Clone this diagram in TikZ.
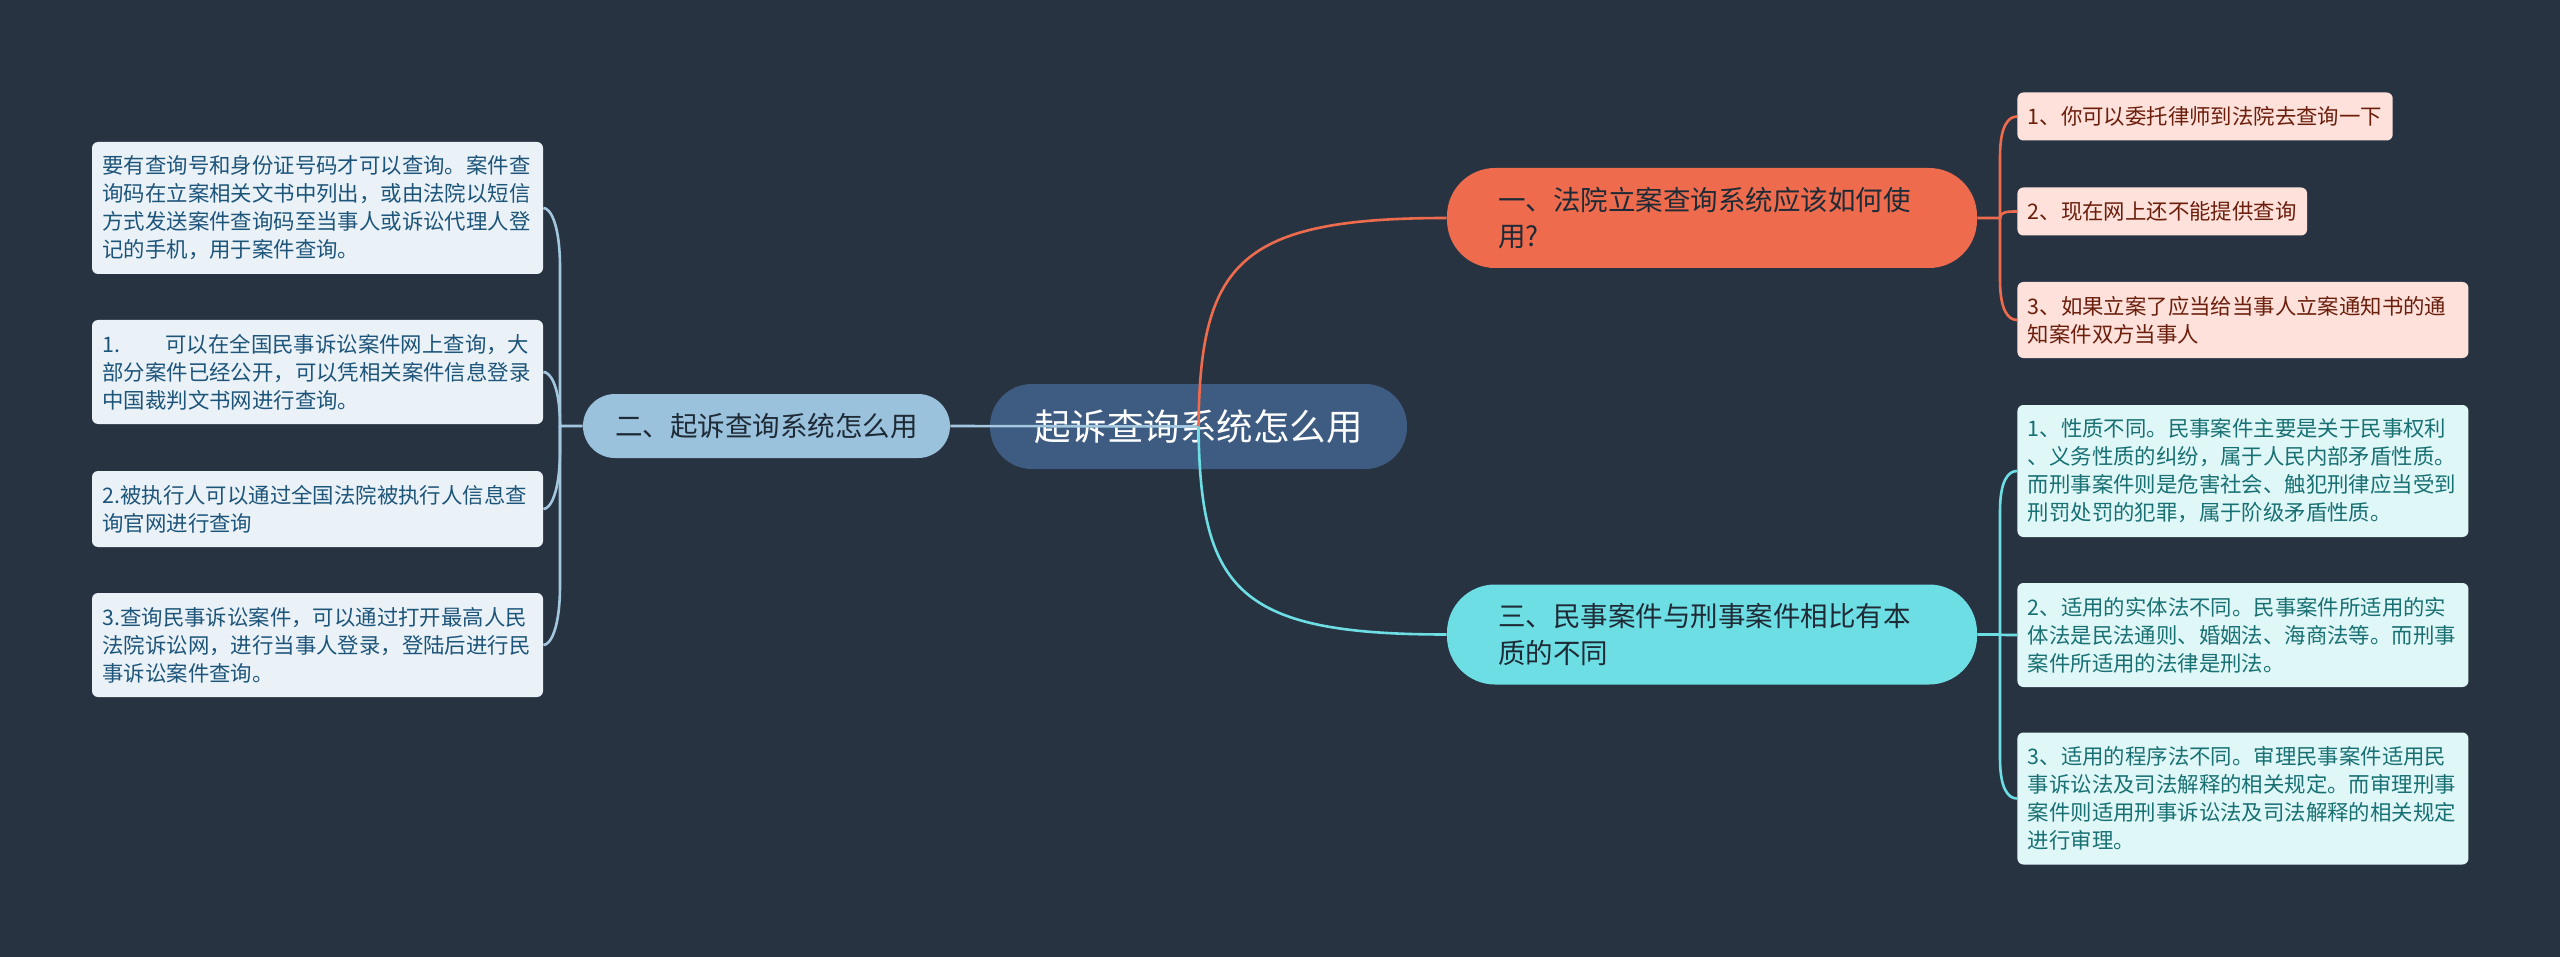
\documentclass[tikz,border=0pt]{standalone}
\usepackage{fontspec}
\setmainfont{Noto Sans CJK SC}
\definecolor{bgc}{HTML}{283342}
\definecolor{rootfill}{HTML}{3E5C82}
\definecolor{bluefill}{HTML}{9AC2DC}
\definecolor{blueline}{HTML}{A3C7DE}
\definecolor{blueleaf}{HTML}{EAF2F8}
\definecolor{bluetext}{HTML}{1D5479}
\definecolor{orangefill}{HTML}{EE6C4D}
\definecolor{orangeleaf}{HTML}{FDE1DA}
\definecolor{orangetext}{HTML}{6B1E0C}
\definecolor{cyanfill}{HTML}{6DDFE4}
\definecolor{cyanleaf}{HTML}{E0F7F8}
\definecolor{cyantext}{HTML}{187073}
\definecolor{darktext}{HTML}{1E2A36}
\begin{document}
\begin{tikzpicture}[x=0.5pt,y=-0.5pt,
  leafbase/.style={rectangle, rounded corners=3pt, inner xsep=5.25pt, inner ysep=0pt, align=left,
    font=\fontsize{10.7pt}{14pt}\selectfont},
  wideleaf/.style={leafbase, text width=215pt},
  bleaf/.style={wideleaf, fill=blueleaf, text=bluetext},
  oleaf/.style={leafbase, fill=orangeleaf, text=orangetext},
  cleaf/.style={wideleaf, fill=cyanleaf, text=cyantext},
  mainnode/.style={rectangle, inner sep=0pt, minimum width=265pt, minimum height=50pt,
    rounded corners=24pt, text width=214pt, align=left, text=darktext,
    font=\fontsize{13.75pt}{18.25pt}\selectfont},
  conn/.style={line width=1.3pt}
]
\useasboundingbox (0,0) rectangle (2560,957);
\fill[bgc] (0,0) rectangle (2560,957);

% root
\node[rectangle, fill=rootfill, text=white, minimum width=208.5pt, minimum height=42.5pt,
  rounded corners=21pt, inner sep=0pt, font=\fontsize{18.25pt}{22pt}\selectfont]
  (root) at (1198.5,426.5) {起诉查询系统怎么用};

% level 1
\node[rectangle, fill=bluefill, text=darktext, minimum width=183.5pt, minimum height=32pt,
  rounded corners=16pt, inner sep=0pt, font=\fontsize{13.75pt}{18pt}\selectfont]
  (two) at (766.5,426) {二、起诉查询系统怎么用};
\node[mainnode, fill=orangefill] (one) at (1712,218) {一、法院立案查询系统应该如何使\\用?};
\node[mainnode, fill=cyanfill] (three) at (1712,634.5) {三、民事案件与刑事案件相比有本\\质的不同};

% left leaves
\node[bleaf, minimum height=66pt] (L1) at (317.5,208) {要有查询号和身份证号码才可以查询。案件查\\询码在立案相关文书中列出，或由法院以短信\\方式发送案件查询码至当事人或诉讼代理人登\\记的手机，用于案件查询。};
\node[bleaf, minimum height=52pt] (L2) at (317.5,372) {\makebox[31.5pt][l]{1.}可以在全国民事诉讼案件网上查询，大\\部分案件已经公开，可以凭相关案件信息登录\\中国裁判文书网进行查询。};
\node[bleaf, minimum height=38pt] (L3) at (317.5,509) {2.被执行人可以通过全国法院被执行人信息查\\询官网进行查询};
\node[bleaf, minimum height=52pt] (L4) at (317.5,645) {3.查询民事诉讼案件，可以通过打开最高人民\\法院诉讼网，进行当事人登录，登陆后进行民\\事诉讼案件查询。};

% orange leaves
\node[oleaf, minimum height=24pt, anchor=west] (R1a) at (2017,116.5) {1、你可以委托律师到法院去查询一下};
\node[oleaf, minimum height=24pt, anchor=west] (R1b) at (2017,211.5) {2、现在网上还不能提供查询};
\node[oleaf, text width=215pt, minimum height=38pt, anchor=west] (R1c) at (2017,320) {3、如果立案了应当给当事人立案通知书的通\\知案件双方当事人};

% cyan leaves
\node[cleaf, minimum height=66pt, anchor=west] (R3a) at (2017,471) {1、性质不同。民事案件主要是关于民事权利\\、义务性质的纠纷，属于人民内部矛盾性质。\\而刑事案件则是危害社会、触犯刑律应当受到\\刑罚处罚的犯罪，属于阶级矛盾性质。};
\node[cleaf, minimum height=52pt, anchor=west] (R3b) at (2017,635) {2、适用的实体法不同。民事案件所适用的实\\体法是民法通则、婚姻法、海商法等。而刑事\\案件所适用的法律是刑法。};
\node[cleaf, minimum height=66pt, anchor=west] (R3c) at (2017,798.5) {3、适用的程序法不同。审理民事案件适用民\\事诉讼法及司法解释的相关规定。而审理刑事\\案件则适用刑事诉讼法及司法解释的相关规定\\进行审理。};

% fork points
\coordinate (fL) at (560,426);
\coordinate (fO) at (2000,218);
\coordinate (fC) at (2000,634.5);

% root connectors
\draw[conn, blueline] (root.center) -- (two.east);
\draw[conn, orangefill] (root.center) .. controls (1200,262) and (1240,218) .. (one.west);
\draw[conn, cyanfill] (root.center) .. controls (1200,592) and (1240,634.5) .. (three.west);

% left connectors
\draw[conn, blueline] (two.west) -- (fL) -- (560,268) .. controls (560,223) and (550,208) .. (L1.east);
\draw[conn, blueline] (fL) .. controls (560,385) and (550,372) .. (L2.east);
\draw[conn, blueline] (fL) -- (560,449) .. controls (560,494) and (550,509) .. (L3.east);
\draw[conn, blueline] (fL) -- (560,585) .. controls (560,630) and (550,645) .. (L4.east);

% orange connectors
\draw[conn, orangefill] (one.east) -- (fO) -- (2000,156.5) .. controls (2000,126.5) and (2008,116.5) .. (R1a.west);
\draw[conn, orangefill] (fO) .. controls (2000,211.5) and (2008,211.5) .. (R1b.west);
\draw[conn, orangefill] (fO) -- (2000,280) .. controls (2000,310) and (2008,320) .. (R1c.west);

% cyan connectors
\draw[conn, cyanfill] (three.east) -- (fC) -- (2000,511) .. controls (2000,481) and (2008,471) .. (R3a.west);
\draw[conn, cyanfill] (fC) .. controls (2000,635) and (2008,635) .. (R3b.west);
\draw[conn, cyanfill] (fC) -- (2000,758.5) .. controls (2000,788.5) and (2008,798.5) .. (R3c.west);
\end{tikzpicture}
\end{document}
